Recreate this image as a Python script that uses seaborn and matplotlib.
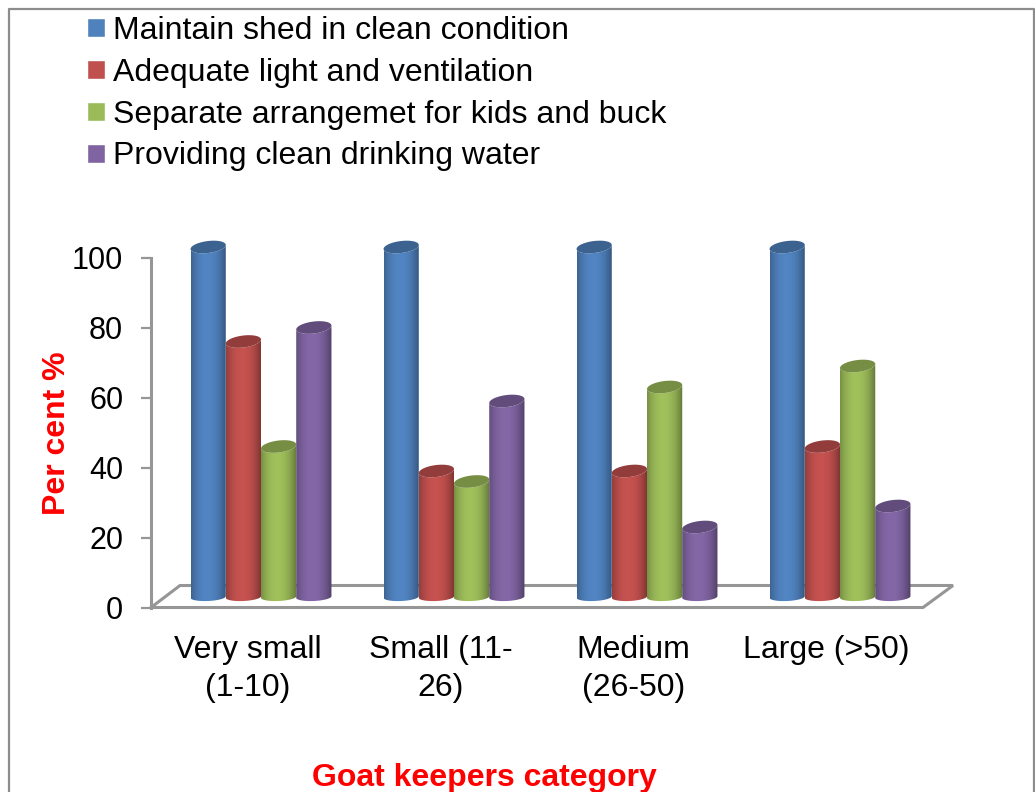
import numpy as np
import pandas as pd
import seaborn as sns
import matplotlib.pyplot as plt
from matplotlib.colors import to_rgb
from matplotlib.lines import Line2D
from matplotlib.patches import Polygon
from matplotlib.transforms import ScaledTranslation

categories = ['Very small\n(1-10)', 'Small (11-\n26)', 'Medium\n(26-50)', 'Large (>50)']
shed = [100, 100, 100, 100]
light = [73, 36, 36, 43]
kids = [43, 33, 60, 66]
water = [77, 56, 20, 26]
series_names = ['Maintain shed in clean condition', 'Adequate light and ventilation',
                'Separate arrangemet for kids and buck', 'Providing clean drinking water']
colors = ['#4f81bd', '#c0504d', '#9bbb59', '#8064a2']
y_ticks = [0, 20, 40, 60, 80, 100]

W, H = 1035, 792
GREY = '#969696'

sns.set_style('white')
plt.rcParams['font.family'] = ['Liberation Sans', 'DejaVu Sans']
plt.rcParams['text.color'] = 'black'

df = pd.DataFrame({'category': categories * 4,
                   'series': np.repeat(series_names, 4),
                   'value': shed + light + kids + water})

fig = plt.figure(figsize=(W / 100, H / 100), dpi=100)
ax = fig.add_axes([151 / W, 1 - 607.5 / H, 772 / W, 350 / H])

sns.barplot(data=df, x='category', y='value', hue='series', hue_order=series_names,
            palette=colors, saturation=1, width=0.73, gap=0, ax=ax)

ax.set_xlim(-0.5, 3.5)
ax.set_ylim(0, 100)
px_x = 4 / 772
px_y = 100 / 350

# floor of the 3d box
floor_x = [-0.5, -0.5 + 29 * px_x, 3.5 + 30 * px_x, 3.5, -0.5]
floor_y = [0, 22 * px_y, 22 * px_y, 0, 0]
ax.plot(floor_x, floor_y, color=GREY, lw=2.2, clip_on=False, zorder=1, solid_joinstyle='miter')

# cylinders are painted from the seaborn bars, shifted like the 3d view
shift = ScaledTranslation(13.5 / 100, 10.5 / 100, fig.dpi_scale_trans)
tr = ax.transData + shift
t = np.linspace(0, np.pi, 40)
z = 3
for container, col in zip(ax.containers, colors):
    base = np.array(to_rgb(col))
    shade = np.linspace(0, 1, 64)
    edge = np.clip(np.abs(shade - 0.45) / 0.55, 0, 1) ** 2.2
    grad = (base * (1.03 - 0.40 * edge[:, None]))[None, :, :]
    grad = np.clip(grad, 0, 1)
    for bar in container:
        x0, w, h = bar.get_x(), bar.get_width(), bar.get_height()
        bar.set_visible(False)
        cx, rx = x0 + w / 2, w / 2
        ry_top, tilt_top = 6 * px_y, 2 * px_y
        ry_bot, tilt_bot = 4 * px_y, 0.8 * px_y
        # front half of the bottom rim and of the top rim
        bx = cx - rx * np.cos(t)
        by = -ry_bot * np.sin(t) - tilt_bot * np.cos(t)
        tx = cx + rx * np.cos(t)
        ty = h - ry_top * np.sin(t) + tilt_top * np.cos(t)
        body = Polygon(np.column_stack([np.r_[bx, tx], np.r_[by, ty]]), closed=True,
                       fc='none', ec='none', transform=tr, clip_on=False, zorder=z)
        ax.add_patch(body)
        im = ax.imshow(grad, extent=[x0, x0 + w, -ry_bot * 2, h + ry_top * 2], aspect='auto',
                       interpolation='bilinear', transform=tr, zorder=z + 0.1)
        im.set_clip_box(fig.bbox)
        im.set_clip_path(body)
        # lid
        a = np.linspace(0, 2 * np.pi, 80)
        lid = Polygon(np.column_stack([cx + rx * np.cos(a),
                                       h + ry_top * np.sin(a) + tilt_top * np.cos(a)]),
                      closed=True, fc=base * 0.76, ec='none', transform=tr,
                      clip_on=False, zorder=z + 0.2)
        ax.add_patch(lid)
        z += 1

ax.set_xlim(-0.5, 3.5)
ax.set_ylim(0, 100)

for side in ['top', 'right', 'bottom']:
    ax.spines[side].set_visible(False)
ax.spines['left'].set_color(GREY)
ax.spines['left'].set_linewidth(2.2)
ax.set_yticks(y_ticks)
ax.tick_params(axis='y', labelsize=22, length=7.5, width=1.6, color=GREY, left=True, pad=12.5, labelcolor='black')
ax.tick_params(axis='x', labelsize=23, length=0, pad=20, labelcolor='black')
for lab in ax.get_xticklabels():
    lab.set_linespacing(1.32)
ax.set_xlabel('')
ax.set_ylabel('')

fig.text(484 / W, 1 - 778 / H, 'Goat keepers category', color='#ff0000', fontsize=23,
         fontweight='bold', ha='center', va='center')
fig.text(57 / W, 1 - 433 / H, 'Per cent %', color='#ff0000', fontsize=23, fontweight='bold',
         rotation=90, ha='center', va='center')

sns.move_legend(ax, 'upper left', bbox_to_anchor=(81 / W, 1 - 9.5 / H),
                bbox_transform=fig.transFigure, frameon=False, title=None, fontsize=23,
                handlelength=0.54, handleheight=0.54, handletextpad=0.25, labelspacing=0.37,
                borderpad=0.2, borderaxespad=0)

# outer chart frame, cut off at the bottom of the picture
fig.add_artist(Line2D([8.5 / W, 8.5 / W, 1033.5 / W, 1033.5 / W], [0, 1 - 8.5 / H, 1 - 8.5 / H, 0],
                      color='#8c8c8c', lw=1.6))

fig.savefig('out.png', dpi=100)
